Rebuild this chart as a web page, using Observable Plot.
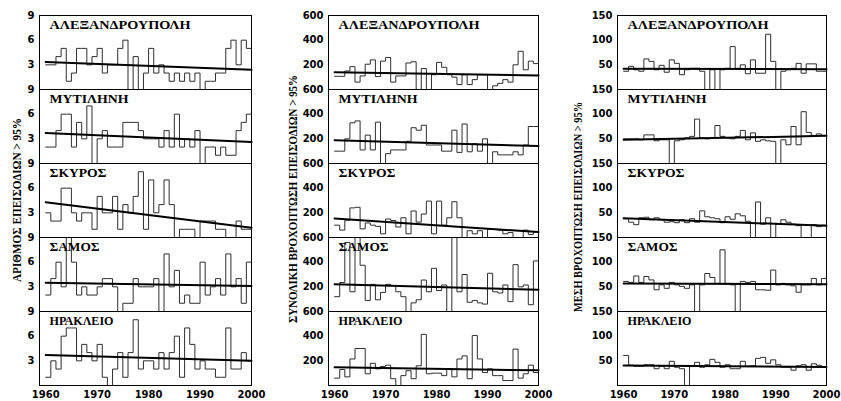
<!DOCTYPE html>
<html><head><meta charset="utf-8">
<script src="https://cdn.jsdelivr.net/npm/d3@7"></script>
<script src="https://cdn.jsdelivr.net/npm/@observablehq/plot@0.6"></script>
<style>
body{margin:0;background:#fff;}
#chart{position:relative;width:841px;height:401px;overflow:hidden;background:#fff;}
#chart svg{position:absolute;top:0;}
</style></head><body><div id="chart"></div>
<script>
const years = d3.range(1960, 2000);
const stations = ["ΑΛΕΞΑΝΔΡΟΥΠΟΛΗ","ΜΥΤΙΛΗΝΗ","ΣΚΥΡΟΣ","ΣΑΜΟΣ","ΗΡΑΚΛΕΙΟ"];
const xTicks = [1960,1970,1980,1990,2000];

// number of episodes > 95%
const countAlex = [3,3,4,5,1,2,5,5,3,4,5,2,3,3,5,6,0,4,0,2,5,2,3,2,1,2,1,2,1,2,0,1,1,2,2,5,6,3,6,5];
const countMyt  = [2,2,4,6,6,2,5,3,7,0,3,4,2,2,2,5,5,5,4,3,3,3,2,4,2,6,2,3,2,4,0,2,2,1,2,1,1,4,5,6];
const countSky  = [3,2,2,6,6,3,2,3,3,1,5,3,3,5,1,4,3,5,8,1,7,3,4,7,4,0,1,1,1,0,2,2,2,1,1,0,0,2,1,1];
const countSam  = [2,4,6,3,9,6,2,3,2,2,3,4,4,3,0,1,1,4,3,3,3,4,0,7,3,5,1,2,1,1,6,2,3,4,2,7,3,4,1,6];
const countHer  = [1,3,2,6,7,7,3,5,4,3,5,1,0,2,4,1,4,8,2,3,3,2,4,2,4,6,1,7,5,2,3,2,2,1,1,7,2,2,4,3];
const countTrendStart = [3.35,3.7,4.3,3.5,3.7];
const countTrendEnd   = [2.4,2.6,1.2,3.1,3.0];

// total rainfall of episodes > 95%
const totalAlex = [107,107,150,185,60,110,205,240,105,230,260,60,110,110,215,225,0,170,0,120,220,180,120,100,40,120,40,80,120,120,0,30,50,80,60,200,310,160,230,210];
const totalMyt  = [100,100,200,330,345,110,230,110,335,0,80,110,110,110,180,290,270,310,150,150,150,100,100,270,90,320,95,160,100,200,0,95,70,70,70,95,70,150,300,300];
const totalSky  = [100,60,140,240,245,70,118,100,90,30,150,138,85,160,30,215,125,190,295,30,295,100,160,290,160,0,55,30,55,0,65,65,60,30,40,0,0,60,25,45];
const totalSam  = [120,235,560,160,600,375,90,220,95,155,220,210,160,120,0,70,95,255,160,350,170,215,0,600,160,300,75,90,70,60,310,160,150,215,80,380,200,215,55,410];
const totalHer  = [60,130,70,215,300,300,95,180,135,155,165,55,0,80,120,55,160,415,95,100,100,80,135,70,215,240,55,405,215,105,135,80,80,40,40,295,60,95,165,105];
const totalTrendStart = [140,188,155,220,147];
const totalTrendEnd   = [114,142,44,176,123];

// mean rainfall of episodes > 95%
const meanAlex = [37,47,40,37,62,57,40,49,35,60,53,30,40,43,43,37,0,40,0,40,43,87,43,50,32,60,33,33,112,57,0,37,40,43,53,33,52,52,37,37];
const meanMyt  = [50,50,50,48,58,58,46,48,48,0,46,48,52,55,90,52,50,51,77,55,52,50,55,67,48,62,45,48,46,45,0,48,38,75,38,105,63,57,60,57];
const meanSky  = [38,31,26,40,41,36,40,36,31,32,30,36,30,38,31,54,42,40,38,30,42,37,48,44,33,0,72,27,40,0,27,36,31,27,24,0,0,26,22,25];
const meanSam  = [61,59,72,59,71,64,44,54,47,59,54,51,47,54,0,54,77,69,57,125,57,54,0,61,59,61,44,44,43,84,54,57,54,52,39,54,54,67,54,67];
const meanHer  = [61,41,39,39,42,42,34,39,34,49,37,34,0,40,47,37,42,53,47,37,42,34,34,49,39,40,55,57,45,52,42,37,37,31,40,42,31,44,41,37];
const meanTrendStart = [42,48,39,57,40.5];
const meanTrendEnd   = [41,56,24,55,37.5];

const yTitles = ["ΑΡΙΘΜΟΣ ΕΠΕΙΣΟΔΙΩΝ > 95%","ΣΥΝΟΛΙΚΗ ΒΡΟΧΟΠΤΩΣΗ ΕΠΕΙΣΟΔΙΩΝ > 95%","ΜΕΣΗ ΒΡΟΧΟΠΤΩΣΗ ΕΠΕΙΣΟΔΙΩΝ > 95%"];

// styling only
const stationTextWidth = {"ΑΛΕΞΑΝΔΡΟΥΠΟΛΗ":141,"ΜΥΤΙΛΗΝΗ":79,"ΣΚΥΡΟΣ":57,"ΣΑΜΟΣ":50,"ΗΡΑΚΛΕΙΟ":64};

function buildRows(series) {
  const rows = [];
  stations.forEach((s, k) => {
    const vals = series[k];
    vals.forEach((v, i) => rows.push({station: s, year: years[i], value: v}));
    rows.push({station: s, year: 2000, value: vals[vals.length - 1]});
  });
  return rows;
}
function buildTrend(start, end) {
  const rows = [];
  stations.forEach((s, k) => {
    rows.push({station: s, year: 1960, value: start[k]});
    rows.push({station: s, year: 2000, value: end[k]});
  });
  return rows;
}

function column(cfg) {
  const rows = buildRows(cfg.series);
  const trend = buildTrend(cfg.tStart, cfg.tEnd);
  const svg = Plot.plot({
    width: cfg.width, height: 401,
    marginLeft: cfg.ml, marginRight: cfg.mr, marginTop: 14, marginBottom: 15,
    style: {fontFamily: "DejaVu Sans", fontWeight: "bold", fontSize: "10px", color: "#000", background: "none", overflow: "visible"},
    x: {domain: [1958.8, 2000], label: null},
    y: {domain: cfg.yDomain, label: null},
    fy: {domain: stations, padding: 0, axis: null, label: null},
    marks: [
      Plot.axisY({ticks: cfg.yTicks, tickSize: 0, tickPadding: 5, label: null, tickFormat: d => String(d)}),
      Plot.axisX({ticks: xTicks, tickSize: 0, tickPadding: 5, label: null, tickFormat: d => String(d)}),
      Plot.line(rows, {x: "year", y: "value", fy: "station", curve: "step-after", stroke: "#2e2e2e", strokeWidth: 1}),
      Plot.line(trend, {x: "year", y: "value", fy: "station", stroke: "#000", strokeWidth: 2}),
      Plot.text(stations, {fy: d => d, text: d => d, frameAnchor: "top-left", lineAnchor: "top", dx: 10, dy: 5,
        fontFamily: "Liberation Serif", fontWeight: "bold", fontSize: 12, fill: "#000"}),
      Plot.frame({stroke: "#000", strokeWidth: 1})
    ]
  });
  svg.style.left = cfg.left + "px";
  d3.select(svg).selectAll("text").each(function() {
    const w = stationTextWidth[this.textContent];
    if (w) { this.setAttribute("textLength", w); this.setAttribute("lengthAdjust", "spacingAndGlyphs"); }
  });
  return svg;
}

const chart = document.getElementById("chart");
chart.appendChild(column({left: 0, width: 280, ml: 39, mr: 29,
  series: [countAlex, countMyt, countSky, countSam, countHer],
  tStart: countTrendStart, tEnd: countTrendEnd, yDomain: [0, 9], yTicks: [3, 6, 9]}));
chart.appendChild(column({left: 280, width: 280, ml: 48, mr: 22,
  series: [totalAlex, totalMyt, totalSky, totalSam, totalHer],
  tStart: totalTrendStart, tEnd: totalTrendEnd, yDomain: [0, 600], yTicks: [200, 400, 600]}));
chart.appendChild(column({left: 560, width: 281, ml: 57, mr: 15,
  series: [meanAlex, meanMyt, meanSky, meanSam, meanHer],
  tStart: meanTrendStart, tEnd: meanTrendEnd, yDomain: [0, 150], yTicks: [50, 100, 150]}));

// rotated y titles
const ov = d3.select(chart).append("svg").attr("width", 841).attr("height", 401).style("left", "0px");
const titlePos = [{x: 17, y: 200, w: 164}, {x: 293, y: 199, w: 248}, {x: 578, y: 207, w: 210}];
yTitles.forEach((t, i) => {
  ov.append("text")
    .attr("transform", `translate(${titlePos[i].x},${titlePos[i].y}) rotate(-90)`)
    .attr("text-anchor", "middle").attr("dominant-baseline", "central")
    .attr("font-family", "Liberation Serif").attr("font-weight", "bold").attr("font-size", 12)
    .attr("textLength", titlePos[i].w).attr("lengthAdjust", "spacingAndGlyphs")
    .text(t);
});
</script></body></html>
